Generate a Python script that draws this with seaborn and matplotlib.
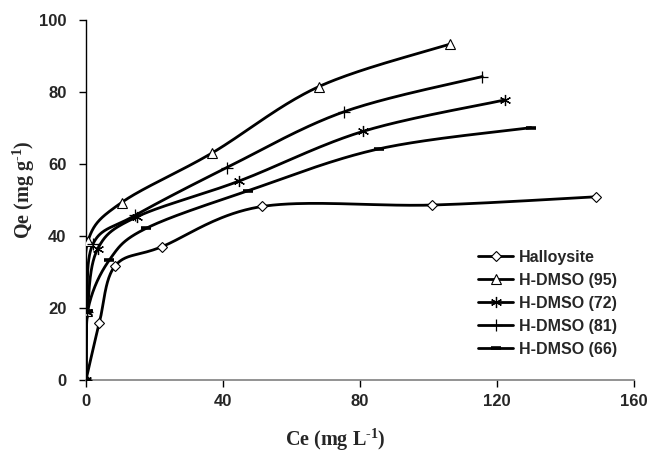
import numpy as np
import pandas as pd
import matplotlib
matplotlib.use("Agg")
import matplotlib.pyplot as plt
import seaborn as sns
from matplotlib.lines import Line2D

# ---- data ----
series_names = ["Halloysite", "H-DMSO (95)", "H-DMSO (72)", "H-DMSO (81)", "H-DMSO (66)"]
hal_x = [0.0, 3.9, 8.5, 22.1, 51.4, 101.0, 149.0]
hal_y = [0.0, 15.9, 31.7, 37.0, 48.2, 48.6, 50.9]
d95_x = [0.0, 0.2, 0.6, 10.4, 36.7, 68.0, 106.3]
d95_y = [0.0, 19.3, 38.7, 49.3, 63.0, 81.5, 93.3]
d72_x = [0.0, 0.4, 3.4, 14.8, 44.8, 81.0, 122.3]
d72_y = [0.0, 18.8, 36.4, 45.3, 55.3, 69.1, 77.8]
d81_x = [0.0, 0.3, 2.1, 14.3, 41.1, 75.3, 115.7]
d81_y = [0.0, 19.0, 37.9, 45.7, 59.0, 74.5, 84.3]
d66_x = [0.0, 0.5, 6.8, 17.5, 47.4, 85.5, 129.9]
d66_y = [0.0, 19.2, 33.3, 42.1, 52.6, 64.2, 70.1]
x_ticks = [0, 40, 80, 120, 160]
y_ticks = [0, 20, 40, 60, 80, 100]

xs = [hal_x, d95_x, d72_x, d81_x, d66_x]
ys = [hal_y, d95_y, d72_y, d81_y, d66_y]

XMAX, YMAX = 160.0, 100.0
SX, SY = 548.0, 360.0  # pixel extents, for isotropic smoothing


def smooth(x, y, n=40):
    """Excel-style smoothed line (Catmull-Rom Bezier) through the points."""
    p = np.column_stack([np.asarray(x) / XMAX * SX, np.asarray(y) / YMAX * SY])
    ext = np.vstack([p[0], p, p[-1]])
    out = [p[:1]]
    t = np.linspace(0, 1, n)[1:, None]
    for i in range(len(p) - 1):
        p0, p1, p2, p3 = ext[i], ext[i + 1], ext[i + 2], ext[i + 3]
        c1 = p1 + (p2 - p0) / 6.0
        c2 = p2 - (p3 - p1) / 6.0
        seg = ((1 - t) ** 3) * p1 + 3 * ((1 - t) ** 2) * t * c1 + 3 * (1 - t) * t ** 2 * c2 + t ** 3 * p2
        out.append(seg)
    q = np.vstack(out)
    return q[:, 0] / SX * XMAX, q[:, 1] / SY * YMAX


rows = []
for name, x, y in zip(series_names, xs, ys):
    sx, sy = smooth(x, y)
    for k, (a, b) in enumerate(zip(sx, sy)):
        rows.append({"series": name, "order": k, "x": a, "y": b})
curves = pd.DataFrame(rows)

pts = pd.DataFrame([
    {"series": name, "x": a, "y": b}
    for name, x, y in zip(series_names, xs, ys) for a, b in zip(x, y)
])

sns.set_theme(style="white")
plt.rcParams["font.family"] = ["Liberation Sans", "DejaVu Sans"]
plt.rcParams["mathtext.fontset"] = "custom"
plt.rcParams["mathtext.rm"] = "Liberation Serif:bold"
plt.rcParams["mathtext.it"] = "Liberation Serif:bold"
plt.rcParams["mathtext.bf"] = "Liberation Serif:bold"
plt.rcParams["mathtext.default"] = "rm"

fig = plt.figure(figsize=(6.64, 4.57), dpi=100)
ax = fig.add_axes([86 / 664, 77 / 457, 548 / 664, 360 / 457])

palette = {n: "black" for n in series_names}
sns.lineplot(data=curves, x="x", y="y", hue="series", units="series", estimator=None,
             sort=False, palette=palette, linewidth=2.0, legend=False, ax=ax)

markers = {
    "Halloysite": dict(marker="D", ms=5, mfc="white", mew=0.8),
    "H-DMSO (95)": dict(marker="^", ms=6.5, mfc="white", mew=0.8),
    "H-DMSO (72)": dict(marker=(6, 2, 0), ms=8, mfc="black", mew=0.9),
    "H-DMSO (81)": dict(marker="+", ms=8, mfc="black", mew=0.9),
    "H-DMSO (66)": dict(marker="_", ms=6.5, mfc="black", mew=2.6),
}
for name in series_names:
    sub = pts[pts.series == name]
    ax.plot(sub.x, sub.y, linestyle="none", color="black", mec="black", zorder=5, **markers[name])

ax.set_xlim(0, XMAX)
ax.set_ylim(0, YMAX)
ax.set_xticks(x_ticks)
ax.set_yticks(y_ticks)
ax.set_xticklabels([str(v) for v in x_ticks], fontsize=12, fontweight="bold")
ax.set_yticklabels([str(v) for v in y_ticks], fontsize=12, fontweight="bold")
ax.tick_params(axis="both", direction="out", length=5, width=1, color="black",
               bottom=True, left=True)
ax.tick_params(axis="x", pad=5)
ax.tick_params(axis="y", pad=9)

for s in ["top", "right"]:
    ax.spines[s].set_visible(False)
ax.spines["left"].set_color("black")
ax.spines["left"].set_linewidth(1.0)
ax.spines["bottom"].set_color("#808080")
ax.spines["bottom"].set_linewidth(1.2)

ax.set_xlabel("Ce (mg L$^{\\text{-1}}$)", family="Liberation Serif", fontweight="bold", fontsize=14.5)
ax.set_ylabel("Qe (mg g$^{\\text{-1}}$)", family="Liberation Serif", fontweight="bold", fontsize=14.5)
ax.xaxis.set_label_coords((335 - 86) / 548, (380 - 427) / 360)
ax.yaxis.set_label_coords((37 - 86) / 548, (380 - 190) / 360)

handles = [Line2D([0], [0], color="black", lw=2.0, mec="black", **markers[n]) for n in series_names]
leg = ax.legend(handles, series_names, loc="upper left",
                bbox_to_anchor=((478 - 86) / 548, (380 - 250) / 360),
                frameon=False, prop={"weight": "bold", "size": 11.5}, handlelength=2.2,
                handletextpad=0.35, labelspacing=0.5, borderpad=0, borderaxespad=0)

fig.savefig("out.png", dpi=100)
